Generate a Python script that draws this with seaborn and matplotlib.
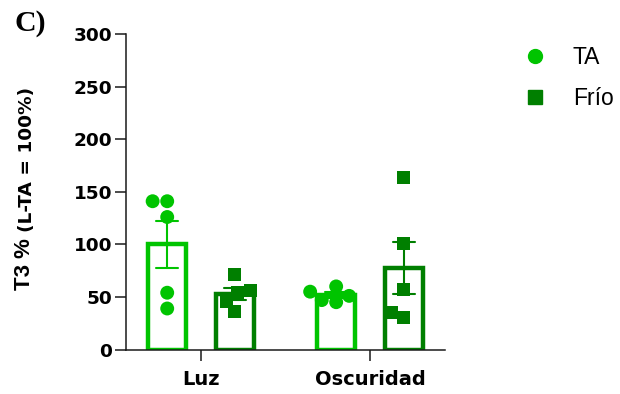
import matplotlib
matplotlib.use("Agg")
import matplotlib.pyplot as plt
from matplotlib.lines import Line2D
import pandas as pd
import seaborn as sns

# T3 levels per animal, relative to the light / room-temperature group (100%)
periods = ["Luz", "Oscuridad"]
conditions = ["TA", "Frío"]
luz_ta = [141, 141, 126, 54, 39]
luz_frio = [71, 56, 54, 46, 36]
osc_ta = [60, 55, 51, 47, 45]
osc_frio = [164, 101, 57, 35, 30]
yticks = [0, 50, 100, 150, 200, 250, 300]

palette = {"TA": "#00C400", "Frío": "#007F00"}
markers = {"TA": "o", "Frío": "s"}
marker_sizes = {"TA": 10, "Frío": 9.4}

groups = {
    ("Luz", "TA"): luz_ta,
    ("Luz", "Frío"): luz_frio,
    ("Oscuridad", "TA"): osc_ta,
    ("Oscuridad", "Frío"): osc_frio,
}
rows = [
    {"periodo": p, "cond": c, "t3": v}
    for (p, c), vals in groups.items()
    for v in vals
]
df = pd.DataFrame(rows)

sns.set_style("ticks")
plt.rcParams["font.family"] = ["DejaVu Sans"]
plt.rcParams["text.color"] = "black"
plt.rcParams["xtick.color"] = "black"
plt.rcParams["ytick.color"] = "black"

fig = plt.figure(figsize=(6.2, 3.94), dpi=100)
ax = fig.add_axes([0.2032, 0.1129, 0.5145, 0.8008])

for cond in conditions:
    sub = df[df["cond"] == cond]
    sns.barplot(
        data=sub, x="periodo", y="t3", hue="cond",
        order=periods, hue_order=conditions, palette=palette,
        dodge=True, fill=False, errorbar="se", capsize=0.26, gap=0.4375,
        linewidth=3.2, err_kws={"color": palette[cond], "linewidth": 1.5},
        legend=False, ax=ax,
    )
for cond in conditions:
    sub = df[df["cond"] == cond]
    sns.swarmplot(
        data=sub, x="periodo", y="t3", hue="cond",
        order=periods, hue_order=conditions, palette=palette,
        dodge=True, marker=markers[cond], size=marker_sizes[cond],
        linewidth=0, legend=False, ax=ax, zorder=3,
    )

ax.set_xlim(-0.444, 1.444)
ax.set_ylim(0, 300)
ax.set_yticks(yticks)
ax.set_xlabel("")
ax.set_ylabel("")
sns.despine(ax=ax)
for side in ("left", "bottom"):
    ax.spines[side].set_linewidth(1.1)
    ax.spines[side].set_color("#1a1a1a")
ax.tick_params(axis="y", length=8, width=1.1, pad=2, color="#1a1a1a")
ax.tick_params(axis="x", length=8, width=1.1, pad=7, color="#1a1a1a")
for lab in ax.get_yticklabels():
    lab.set_fontsize(13.3)
    lab.set_fontweight("bold")
    lab.set_color("black")
for lab in ax.get_xticklabels():
    lab.set_fontsize(14)
    lab.set_fontweight("bold")
    lab.set_color("black")

# y-axis title in two sizes
fig.text(35 / 620, 1 - 290 / 394, "T3 %", rotation=90, ha="right", va="bottom",
         fontsize=16, fontweight="bold", family=["Liberation Sans"])
fig.text(36 / 620, 1 - 232 / 394, "(L-TA = 100%)", rotation=90, ha="right",
         va="bottom", fontsize=13.3, fontweight="bold")

# panel letter
fig.text(15 / 620, 1 - 31 / 394, "C)", ha="left", va="baseline",
         fontsize=21.5, fontweight="bold", family=["Liberation Serif"])

handles = [
    Line2D([], [], linestyle="none", marker=markers[c], color=palette[c],
           markersize=marker_sizes[c])
    for c in conditions
]
fig.legend(
    handles, conditions, loc="upper left",
    bbox_to_anchor=(523.5 / 620, 1 - 46 / 394), frameon=False,
    borderpad=0, borderaxespad=0, handlelength=1.0, handletextpad=1.15,
    labelspacing=0.8, prop={"family": ["Liberation Sans"], "size": 16.5},
)

fig.savefig("out.png", dpi=100)
